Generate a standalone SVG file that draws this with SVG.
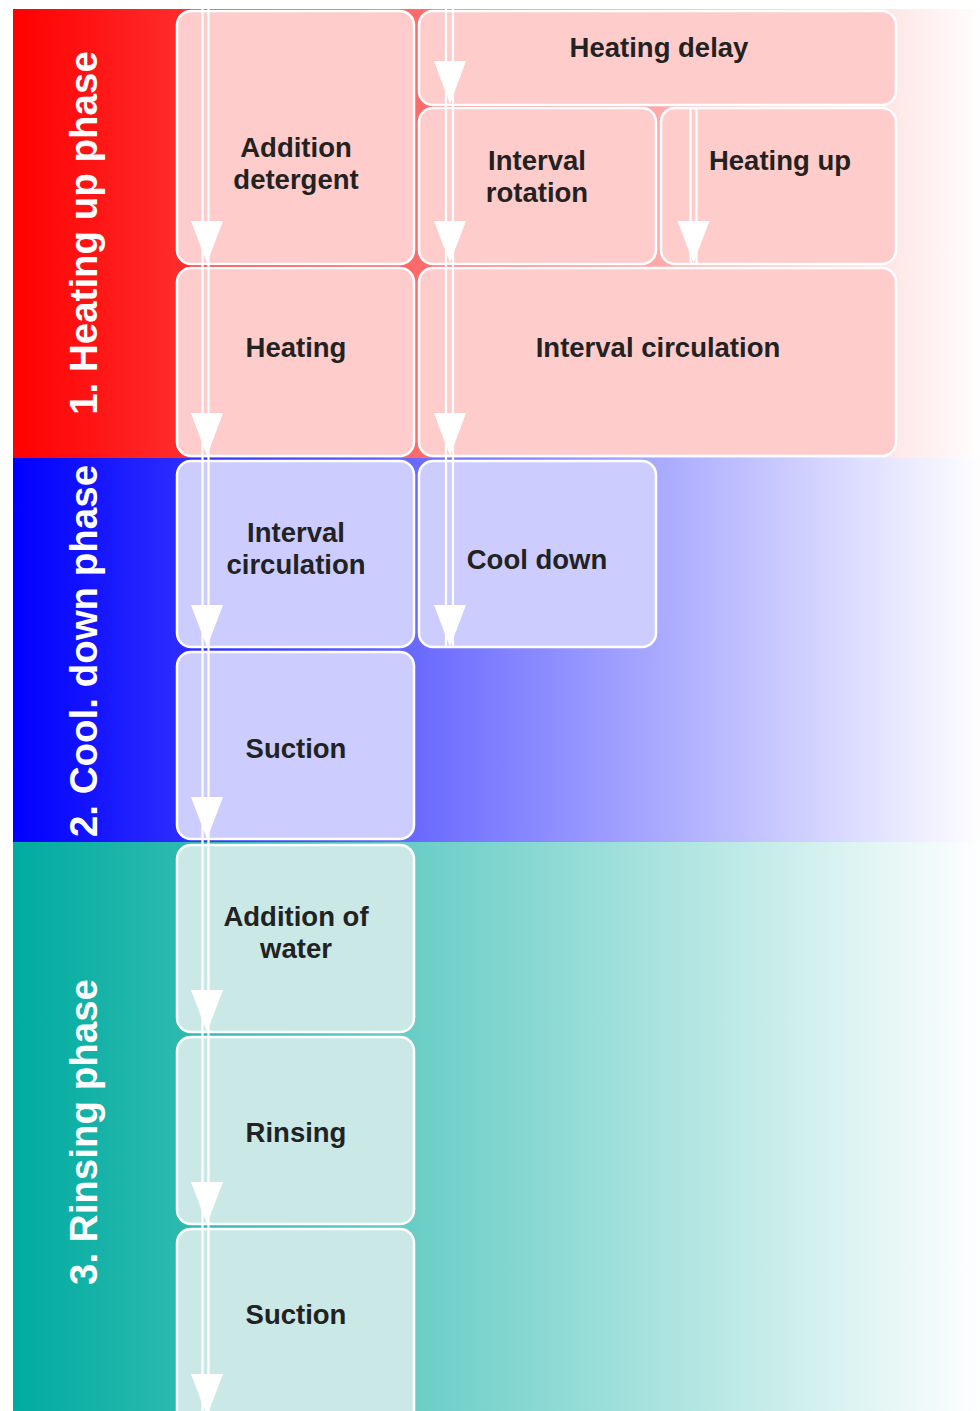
<svg xmlns="http://www.w3.org/2000/svg" width="980" height="1411" viewBox="0 0 980 1411">
<defs>
<linearGradient id="gRed" gradientUnits="userSpaceOnUse" x1="13" y1="0" x2="985" y2="0"><stop offset="0" stop-color="#ff0000"/><stop offset="1" stop-color="#ffffff"/></linearGradient>
<linearGradient id="gBlue" gradientUnits="userSpaceOnUse" x1="13" y1="0" x2="985" y2="0"><stop offset="0" stop-color="#0000ff"/><stop offset="1" stop-color="#ffffff"/></linearGradient>
<linearGradient id="gTeal" gradientUnits="userSpaceOnUse" x1="13" y1="0" x2="985" y2="0"><stop offset="0" stop-color="#00ab9f"/><stop offset="1" stop-color="#ffffff"/></linearGradient>
</defs>
<style>
.box{stroke:#ffffff;stroke-width:2.5}
.pk{fill:#ffcccc}
.bl{fill:#ccccff}
.tl{fill:#c9e8e6}
.lbl{font-family:"Liberation Sans",Arial,sans-serif;font-weight:bold;font-size:27.5px;fill:#222222;text-anchor:middle}
.phase{font-family:"Liberation Sans",Arial,sans-serif;font-weight:bold;font-size:38.5px;fill:#ffffff;text-anchor:middle}
.ln{stroke:#ffffff;stroke-width:2.2;fill:none}
.hd{fill:#ffffff}
</style>
<g id="bands">
<rect x="13" y="9" width="967" height="449" fill="url(#gRed)"/>
<rect x="13" y="458" width="967" height="384" fill="url(#gBlue)"/>
<rect x="13" y="842" width="967" height="569" fill="url(#gTeal)"/>
</g>
<g id="phase1"><text class="phase" transform="translate(97,233) rotate(-90)">1. Heating up phase</text></g>
<g id="phase2"><text class="phase" transform="translate(97,651) rotate(-90)">2. Cool. down phase</text></g>
<g id="phase3"><text class="phase" transform="translate(97,1132) rotate(-90)">3. Rinsing phase</text></g>

<g id="n-addition-detergent"><rect class="box pk" x="177" y="11" width="237" height="253" rx="14"/><text class="lbl" x="296" y="157">Addition</text><text class="lbl" x="296" y="189">detergent</text></g>
<g id="n-heating"><rect class="box pk" x="177" y="268" width="237" height="188" rx="14"/><text class="lbl" x="296" y="357">Heating</text></g>
<g id="n-heating-delay"><rect class="box pk" x="419" y="11" width="477" height="94" rx="14"/><text class="lbl" x="659" y="57">Heating delay</text></g>
<g id="n-interval-rotation"><rect class="box pk" x="419" y="108" width="237" height="156" rx="14"/><text class="lbl" x="537" y="170">Interval</text><text class="lbl" x="537" y="202">rotation</text></g>
<g id="n-heating-up"><rect class="box pk" x="661" y="108" width="235" height="156" rx="14"/><text class="lbl" x="780" y="170">Heating up</text></g>
<g id="n-interval-circulation-1"><rect class="box pk" x="419" y="268" width="477" height="188" rx="14"/><text class="lbl" x="658" y="357">Interval circulation</text></g>

<g id="n-interval-circulation-2"><rect class="box bl" x="177" y="461" width="237" height="186" rx="14"/><text class="lbl" x="296" y="542">Interval</text><text class="lbl" x="296" y="574">circulation</text></g>
<g id="n-cool-down"><rect class="box bl" x="419" y="461" width="237" height="186" rx="14"/><text class="lbl" x="537" y="569">Cool down</text></g>
<g id="n-suction-1"><rect class="box bl" x="177" y="652" width="237" height="187" rx="14"/><text class="lbl" x="296" y="758">Suction</text></g>

<g id="n-addition-water"><rect class="box tl" x="177" y="845" width="237" height="187" rx="14"/><text class="lbl" x="296" y="926">Addition of</text><text class="lbl" x="296" y="958">water</text></g>
<g id="n-rinsing"><rect class="box tl" x="177" y="1037" width="237" height="187" rx="14"/><text class="lbl" x="296" y="1142">Rinsing</text></g>
<g id="n-suction-2"><rect class="box tl" x="177" y="1229" width="237" height="205" rx="14"/><text class="lbl" x="296" y="1324">Suction</text></g>

<g id="connectors">
<path class="ln" d="M202.5 9V1411M208.5 9V1411"/>
<polygon class="hd" points="191,221 223,221 207,263"/>
<polygon class="hd" points="191,413 223,413 207,456"/>
<polygon class="hd" points="191,605 223,605 207,647"/>
<polygon class="hd" points="191,797 223,797 207,839"/>
<polygon class="hd" points="191,990 223,990 207,1032"/>
<polygon class="hd" points="191,1182 223,1182 207,1224"/>
<polygon class="hd" points="191,1374 223,1374 207,1416"/>
<path class="ln" d="M446 9V647M453 9V647"/>
<polygon class="hd" points="434,61 466,61 450,104"/>
<polygon class="hd" points="434,221 466,221 450,263"/>
<polygon class="hd" points="434,413 466,413 450,456"/>
<polygon class="hd" points="434,605 466,605 450,647"/>
<path class="ln" d="M690.5 108V264M696.5 108V264"/>
<polygon class="hd" points="677.5,221 709.5,221 693.5,263"/>
</g>
</svg>
